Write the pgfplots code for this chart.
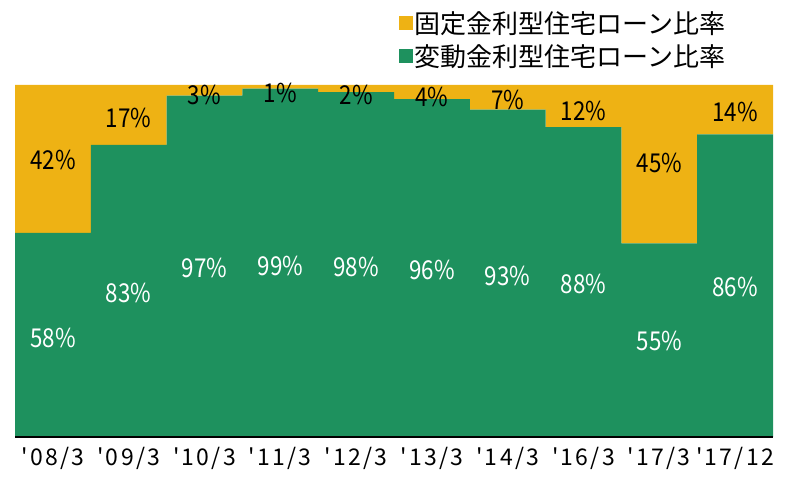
\documentclass[border=0pt]{standalone}
\usepackage{pgfplots}
\pgfplotsset{compat=1.18}
\usepackage{fontspec}
\setmainfont{Noto Sans CJK JP}[Ligatures=TeXOff]
\newfontfamily\labfont{Noto Sans CJK JP}[FakeStretch=0.86]
\newfontfamily\tickfont{Noto Sans CJK JP}[Ligatures=TeXOff, LetterSpace=10]
\definecolor{fixY}{RGB}{238,178,20}
\definecolor{varG}{RGB}{30,145,94}
\newcommand\ap{\symbol{39}}

% shares of floating / fixed rate loans (%)
\pgfplotstableread{
x var fix
0 58 42
1 83 17
2 97 3
3 99 1
4 98 2
5 96 4
6 93 7
7 88 12
8 55 45
9 86 14
}\ratetable

% label positions (y)
\pgfplotstableread{
x gy gl fy fl
0 28.1 58\% 78.7 42\%
1 40.9 83\% 90.6 17\%
2 48.0 97\% 97.2 3\%
3 48.6 99\% 97.7 1\%
4 48.3 98\% 97.2 2\%
5 47.4 96\% 96.6 4\%
6 45.7 93\% 95.7 7\%
7 43.5 88\% 92.6 12\%
8 27.3 55\% 77.8 45\%
9 42.6 86\% 92.3 14\%
}\labeltable

\begin{document}
\begin{tikzpicture}
\begin{axis}[
  at={(0pt,0pt)}, anchor=south west,
  scale only axis,
  width=758pt, height=352pt,
  ybar stacked,
  bar width=1,
  xmin=-0.5, xmax=9.5,
  ymin=0, ymax=100,
  enlargelimits=false,
  axis on top,
  axis y line=none,
  axis x line*=bottom,
  x axis line style={line width=2pt, black},
  major tick length=0pt,
  xtick={0,...,9},
  xticklabels={{\ap08/3},{\ap09/3},{\ap10/3},{\ap11/3},{\ap12/3},{\ap13/3},{\ap14/3},{\ap16/3},{\ap17/3},{\ap17/12}},
  xticklabel style={font=\tickfont\fontsize{23}{26}\selectfont, yshift=-7pt},
  legend image code/.code={\fill[#1] (0pt,-7pt) rectangle (14pt,7pt);},
  reverse legend,
  legend style={
    at={(rel axis cs:0.503,1.219)}, anchor=north west,
    draw=none, fill=none,
    font=\fontsize{26}{28}\selectfont,
    row sep=8pt,
    nodes={inner sep=1pt},
  },
]
\addplot[fill=varG, draw=none] table[x=x, y=var] {\ratetable};
\addlegendentry{変動金利型住宅ローン比率}
\addplot[fill=fixY, draw=none] table[x=x, y=fix] {\ratetable};
\addlegendentry{固定金利型住宅ローン比率}
\end{axis}

\begin{axis}[
  at={(0pt,0pt)}, anchor=south west,
  scale only axis,
  width=758pt, height=352pt,
  xmin=-0.5, xmax=9.5,
  ymin=0, ymax=100,
  hide axis,
  nodes near coords,
  point meta=explicit symbolic,
]
\addplot[draw=none, mark=none,
  every node near coord/.append style={anchor=center, text=white, font=\labfont\fontsize{26}{28}\selectfont}]
  table[x=x, y=gy, meta=gl] {\labeltable};
\addplot[draw=none, mark=none,
  every node near coord/.append style={anchor=center, text=black, font=\labfont\fontsize{26}{28}\selectfont}]
  table[x=x, y=fy, meta=fl] {\labeltable};
\end{axis}
\path (-15pt,-47pt) rectangle (772pt,437pt);
\end{tikzpicture}
\end{document}
